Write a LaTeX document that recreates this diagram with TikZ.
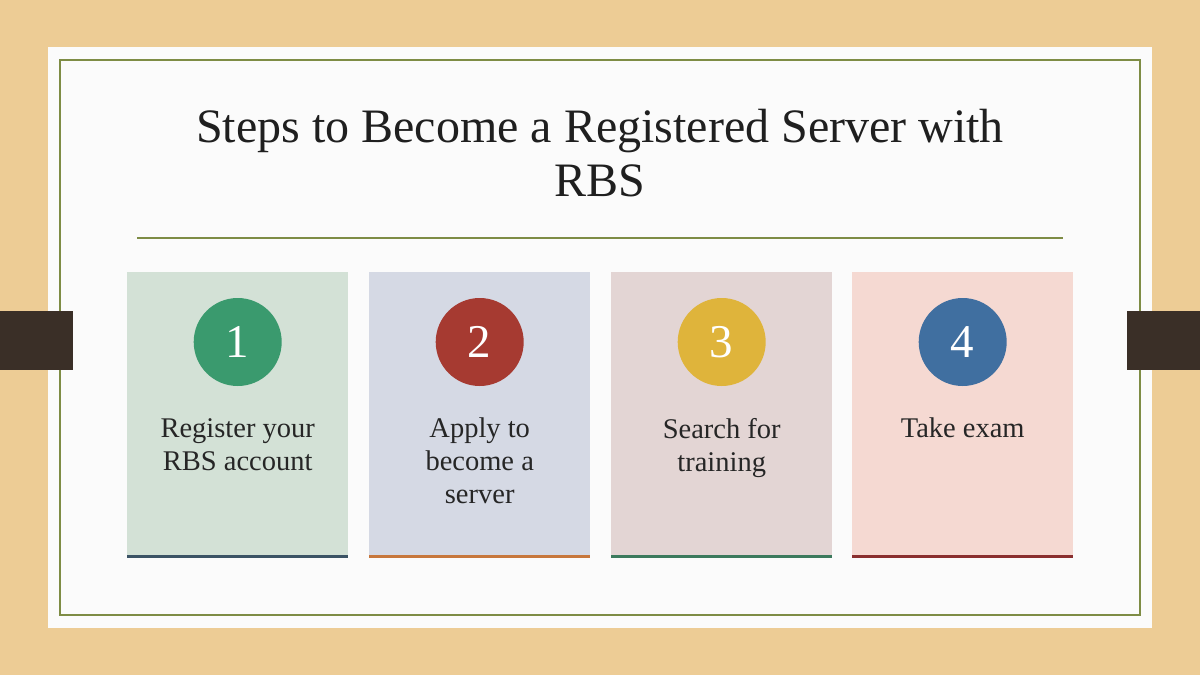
\documentclass[tikz,border=0pt]{standalone}
\usepackage{fontspec}
\setmainfont{Liberation Serif}
\begin{document}
\begin{tikzpicture}[x=1pt,y=-1pt,
  card/.style={draw=none,minimum width=221pt,minimum height=284pt,anchor=north west,inner sep=0pt},
  num/.style={circle,minimum size=88pt,inner sep=0pt,text=white,font=\fontsize{47}{47}\selectfont},
  lbl/.style={anchor=north,align=center,text=black!85,font=\fontsize{28.5}{33}\selectfont,inner sep=0pt}]
\definecolor{woodcol}{HTML}{EDCC95}
\definecolor{olivecol}{HTML}{7E8C45}
\definecolor{clipcol}{HTML}{3A2F27}
\definecolor{cA}{HTML}{D3E1D6}
\definecolor{cB}{HTML}{D5D9E4}
\definecolor{cC}{HTML}{E3D5D4}
\definecolor{cD}{HTML}{F5D9D2}
\definecolor{lA}{HTML}{3B5365}
\definecolor{lB}{HTML}{C7773C}
\definecolor{lC}{HTML}{3C7A5D}
\definecolor{lD}{HTML}{8A2F2F}
\definecolor{nA}{HTML}{3A9A6E}
\definecolor{nB}{HTML}{A63A31}
\definecolor{nC}{HTML}{DFB43B}
\definecolor{nD}{HTML}{406FA0}
\useasboundingbox (0,0) rectangle (1200,675);
\fill[woodcol] (0,0) rectangle (1200,675);
\fill[white!97!gray] (48,47) rectangle (1152,628);
\draw[olivecol,line width=1.5pt] (60,60) rectangle (1140,615);
\fill[clipcol] (0,311) rectangle (73,370);
\fill[clipcol] (1127,311) rectangle (1200,370);
\node[font=\fontsize{48}{54}\selectfont,align=center,text=black!88,anchor=north] (title) at (600,106)
  {Steps to Become a Registered Server with\\RBS};
\draw[olivecol,line width=1.2pt] (137,238) -- (1063,238);
\foreach \i/\x/\cc/\lc/\nc/\t in {1/127/cA/lA/nA/{Register your\\RBS account},2/369/cB/lB/nB/{Apply to\\become a\\server},3/611/cC/lC/nC/{Search for\\training},4/852/cD/lD/nD/{Take exam}}{
  \node[card,fill=\cc] (card\i) at (\x,272) {};
  \draw[\lc,line width=3pt] (card\i.south west) -- (card\i.south east);
  \node[num,fill=\nc] (n\i) at ([yshift=-70pt]card\i.north) {\i};
  \node[lbl] (t\i) at ([yshift=-146pt]card\i.north) {\t};
}
\end{tikzpicture}
\end{document}
